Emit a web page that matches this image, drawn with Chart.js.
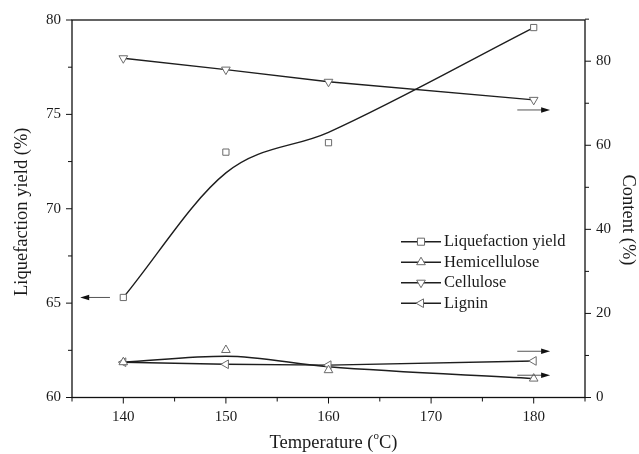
<!DOCTYPE html>
<html>
<head>
<meta charset="utf-8">
<script src="https://cdn.jsdelivr.net/npm/chart.js@4"></script>
<style>
  body { margin: 0; background: #fff; }
  canvas { display: block; }
</style>
</head>
<body>
<canvas id="chart" width="639" height="454"></canvas>
<script>
// temperatures (°C)
const temps = [140, 150, 160, 180];
// measured points
const yieldPts = [65.3, 73.0, 73.5, 79.6];
const hemiPts = [8.4, 11.3, 6.5, 4.5];
const cellPts = [80.7, 78.0, 75.1, 70.8];
const ligPts = [8.4, 7.9, 7.7, 8.7];
// fitted curves at the same temperatures
const yieldFit = [65.3, 71.9, 74.05, 79.6];
const hemiFit = [8.4, 9.8, 7.3, 4.5];

const xTicks = [140, 150, 160, 170, 180];
const yTicks = [60, 65, 70, 75, 80];
const y1Ticks = [0, 20, 40, 60, 80];

// arrows: [x from, x to, value, axis]
const arrows = [
  [138.7, 135.8, 65.3, 'y'],
  [178.4, 181.6, 68.4, 'y1'],
  [178.4, 181.6, 11.0, 'y1'],
  [178.4, 181.6, 5.3, 'y1']
];

const FONT = '"Liberation Serif", "Times New Roman", serif';
const MARK = '#6a6a6a';
const LINE = '#1e1e1e';

function pts(ys) { return temps.map((t, i) => ({ x: t, y: ys[i] })); }

function curve(data, axis, tension) {
  return {
    data: pts(data), yAxisID: axis, borderColor: LINE, borderWidth: 1.4,
    pointRadius: 0, showLine: true, fill: false,
    cubicInterpolationMode: tension ? 'monotone' : 'default', tension: 0, order: 2
  };
}
function marks(data, axis, style, rot, r) {
  return {
    data: pts(data), yAxisID: axis, showLine: false,
    pointStyle: style, pointRotation: rot, pointRadius: r,
    pointBorderColor: MARK, pointBackgroundColor: '#fff', pointBorderWidth: 1, order: 1
  };
}

const legendItems = [
  ['Liquefaction yield', 'rect', 0, 5],
  ['Hemicellulose', 'triangle', 0, 5],
  ['Cellulose', 'triangle', 180, 5],
  ['Lignin', 'triangle', 270, 5]
];

const decor = {
  id: 'decor',
  afterDraw(chart) {
    const ctx = chart.ctx;
    const a = chart.chartArea;
    const sx = chart.scales.x, sy = chart.scales.y, sy1 = chart.scales.y1;
    ctx.save();
    ctx.strokeStyle = '#111';
    ctx.lineWidth = 1.3;
    ctx.strokeRect(a.left, a.top, a.right - a.left, a.bottom - a.top);
    ctx.lineWidth = 1;
    ctx.beginPath();
    for (let v = 135; v <= 185; v += 5) {
      const px = sx.getPixelForValue(v);
      const len = (v % 10 === 0) ? 6 : 4;
      ctx.moveTo(px, a.bottom); ctx.lineTo(px, a.bottom + len);
    }
    for (let v = 60; v <= 80; v += 2.5) {
      const py = sy.getPixelForValue(v);
      const len = (v % 5 === 0) ? 6 : 4;
      ctx.moveTo(a.left, py); ctx.lineTo(a.left - len, py);
    }
    for (let v = 0; v <= 90; v += 10) {
      const py = sy1.getPixelForValue(v);
      const len = (v % 20 === 0) ? 6 : 4;
      ctx.moveTo(a.right, py); ctx.lineTo(a.right + len, py);
    }
    ctx.stroke();

    // arrows
    arrows.forEach(([x0, x1, v, ax]) => {
      const s = chart.scales[ax];
      const py = s.getPixelForValue(v);
      const p0 = sx.getPixelForValue(x0), p1 = sx.getPixelForValue(x1);
      const dir = Math.sign(p1 - p0);
      ctx.strokeStyle = '#555';
      ctx.lineWidth = 1;
      ctx.beginPath();
      ctx.moveTo(p0, py); ctx.lineTo(p1 - dir * 6, py);
      ctx.stroke();
      ctx.fillStyle = '#111';
      ctx.beginPath();
      ctx.moveTo(p1, py);
      ctx.lineTo(p1 - dir * 9, py - 2.8);
      ctx.lineTo(p1 - dir * 9, py + 2.8);
      ctx.closePath();
      ctx.fill();
    });

    // legend
    ctx.font = '16.5px ' + FONT;
    ctx.textBaseline = 'middle';
    ctx.textAlign = 'left';
    legendItems.forEach(([label, style, rot, r], i) => {
      const y = 241.7 + i * 20.5;
      ctx.strokeStyle = LINE;
      ctx.lineWidth = 1.4;
      ctx.beginPath();
      ctx.moveTo(401, y); ctx.lineTo(441, y);
      ctx.stroke();
      ctx.fillStyle = '#fff';
      ctx.strokeStyle = MARK;
      ctx.lineWidth = 1;
      Chart.helpers.drawPoint(ctx, { pointStyle: style, rotation: rot, radius: r, borderWidth: 1 }, 421, y);
      ctx.fillStyle = '#1a1a1a';
      ctx.fillText(label, 444, y);
    });

    // axis titles
    ctx.fillStyle = '#1a1a1a';
    ctx.font = '18.5px ' + FONT;
    ctx.textAlign = 'center';
    ctx.save();
    ctx.translate(22, (a.top + a.bottom) / 2 + 3);
    ctx.rotate(-Math.PI / 2);
    ctx.fillText('Liquefaction yield (%)', 0, 0);
    ctx.restore();
    ctx.save();
    ctx.translate(628, 220);
    ctx.rotate(Math.PI / 2);
    ctx.fillText('Content (%)', 0, 0);
    ctx.restore();

    // Temperature (°C) with superscript o
    const p1 = 'Temperature (', p2 = 'o', p3 = 'C)';
    const w1 = ctx.measureText(p1).width, w3 = ctx.measureText(p3).width;
    ctx.font = '11px ' + FONT;
    const w2 = ctx.measureText(p2).width;
    const total = w1 + w2 + w3;
    let x = (a.left + a.right) / 2 - total / 2 + 5;
    const ty = 443;
    ctx.textAlign = 'left';
    ctx.font = '18.5px ' + FONT;
    ctx.fillText(p1, x, ty);
    ctx.font = '11px ' + FONT;
    ctx.fillText(p2, x + w1, ty - 7);
    ctx.font = '18.5px ' + FONT;
    ctx.fillText(p3, x + w1 + w2, ty);
    ctx.restore();
  }
};

new Chart(document.getElementById('chart'), {
  type: 'scatter',
  data: {
    datasets: [
      curve(yieldFit, 'y', true),
      curve(hemiFit, 'y1', true),
      curve(cellPts, 'y1', false),
      curve(ligPts, 'y1', false),
      marks(yieldPts, 'y', 'rect', 0, 4.4),
      marks(hemiPts, 'y1', 'triangle', 0, 5),
      marks(cellPts, 'y1', 'triangle', 180, 5),
      marks(ligPts, 'y1', 'triangle', 270, 5)
    ]
  },
  options: {
    responsive: false,
    animation: false,
    layout: { padding: { top: 19, left: 0, right: 0, bottom: 0 } },
    plugins: { legend: { display: false }, tooltip: { enabled: false } },
    scales: {
      x: {
        type: 'linear', position: 'bottom', min: 135, max: 185,
        afterBuildTicks: s => { s.ticks = xTicks.map(v => ({ value: v })); },
        afterFit: s => { s.height = 56.5; },
        grid: { display: false, drawTicks: false }, border: { display: false },
        ticks: { padding: 11, color: '#1a1a1a', font: { family: FONT, size: 15 } }
      },
      y: {
        position: 'left', min: 60, max: 80,
        afterBuildTicks: s => { s.ticks = yTicks.map(v => ({ value: v })); },
        afterFit: s => { s.width = 72; },
        grid: { display: false, drawTicks: false }, border: { display: false },
        ticks: { padding: 11, color: '#1a1a1a', font: { family: FONT, size: 15 } }
      },
      y1: {
        position: 'right', min: 0, max: 89.8,
        afterBuildTicks: s => { s.ticks = y1Ticks.map(v => ({ value: v })); },
        afterFit: s => { s.width = 54; },
        grid: { display: false, drawTicks: false }, border: { display: false },
        ticks: { padding: 11, color: '#1a1a1a', font: { family: FONT, size: 15 } }
      }
    }
  },
  plugins: [decor]
});
</script>
</body>
</html>
